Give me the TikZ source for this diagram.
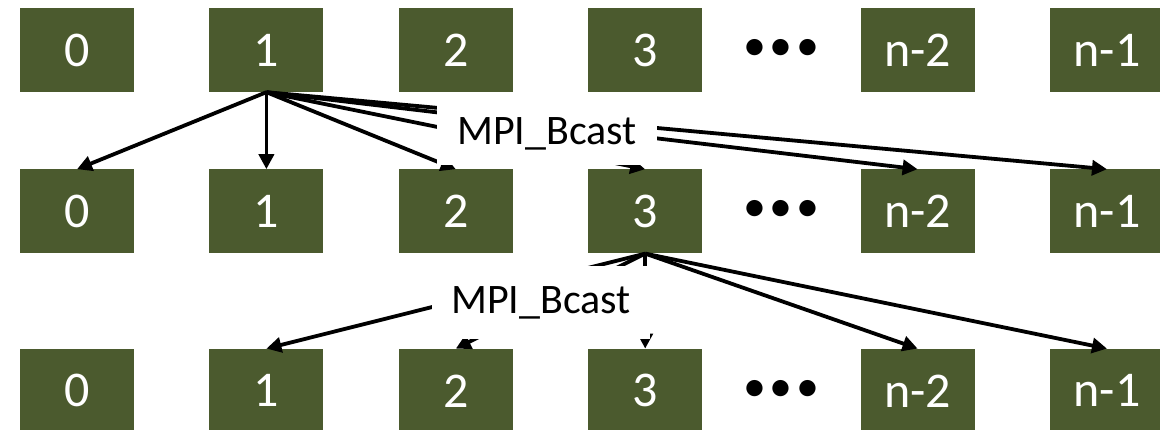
\documentclass[tikz,border=0pt]{standalone}
\usepackage{fontspec}
\setmainfont{Carlito}
\usetikzlibrary{arrows.meta,positioning}
\definecolor{rankgreen}{HTML}{4B5A2E}

\begin{document}
\begin{tikzpicture}[
  x=1pt, y=-1pt, node distance=75pt,
  >={Triangle[length=15pt,width=15pt]},
  rank/.style={fill=rankgreen, text=white, minimum width=114pt, minimum height=84pt,
               inner sep=0pt, font=\fontsize{50}{50}\selectfont},
  ellip/.style={inner sep=0pt, font=\fontsize{46}{46}\selectfont},
  bcast/.style={->, line width=3.8pt},
  lbl/.style={fill=white, inner sep=0pt, font=\fontsize{42}{42}\selectfont},
]
\useasboundingbox (0,0) rectangle (1160,430);

% top row
\node[rank] (t0) at (77,50) {0};
\node[rank, right=of t0] (t1) {1};
\node[rank, right=of t1] (t2) {2};
\node[rank, right=of t2] (t3) {3};
\node[rank, right=158pt of t3] (tn2) {n-2};
\node[rank, right=of tn2] (tn1) {n-1};
\path (t3) -- node[ellip] (tdots) {\textbullet\kern4pt\textbullet\kern4pt\textbullet} (tn2);

% middle row
\node[rank, below=77pt of t0] (m0) {0};
\node[rank, right=of m0] (m1) {1};
\node[rank, right=of m1] (m2) {2};
\node[rank, right=of m2] (m3) {3};
\node[rank, right=158pt of m3] (mn2) {n-2};
\node[rank, right=of mn2] (mn1) {n-1};
\path (m3) -- node[ellip] (mdots) {\textbullet\kern4pt\textbullet\kern4pt\textbullet} (mn2);

% bottom row
\node[rank, below=95pt of m0] (b0) {0};
\node[rank, right=of b0] (b1) {1};
\node[rank, right=of b1] (b2) {2};
\node[rank, right=of b2] (b3) {3};
\node[rank, right=158pt of b3] (bn2) {n-2};
\node[rank, right=of bn2] (bn1) {n-1};
\path (b3) -- node[ellip] (bdots) {\textbullet\kern4pt\textbullet\kern4pt\textbullet} (bn2);

% first broadcast, root 1
\draw[bcast] (t1.south) -- (m0.north);
\draw[bcast] (t1.south) -- (m1.north);
\draw[bcast] (t1.south) -- (m2.north);
\draw[bcast] (t1.south) -- (m3.north);
\draw[bcast] (t1.south) -- (mn2.north);
\draw[bcast] (t1.south) -- (mn1.north);
\node[lbl, minimum width=220pt, minimum height=62pt] (bc1) at (547,134) {MPI\_Bcast};

% second broadcast, root 3
\draw[bcast] (m3.south) -- (b1.north);
\draw[bcast] (m3.south) -- (b2.north);
\draw[bcast] (m3.south) -- (b3.north);
\draw[bcast] (m3.south) -- (bn2.north);
\draw[bcast] (m3.south) -- (bn1.north);
\node[lbl, minimum width=218pt, minimum height=73pt] (bc2) at (541,303) {MPI\_Bcast};
\end{tikzpicture}
\end{document}
